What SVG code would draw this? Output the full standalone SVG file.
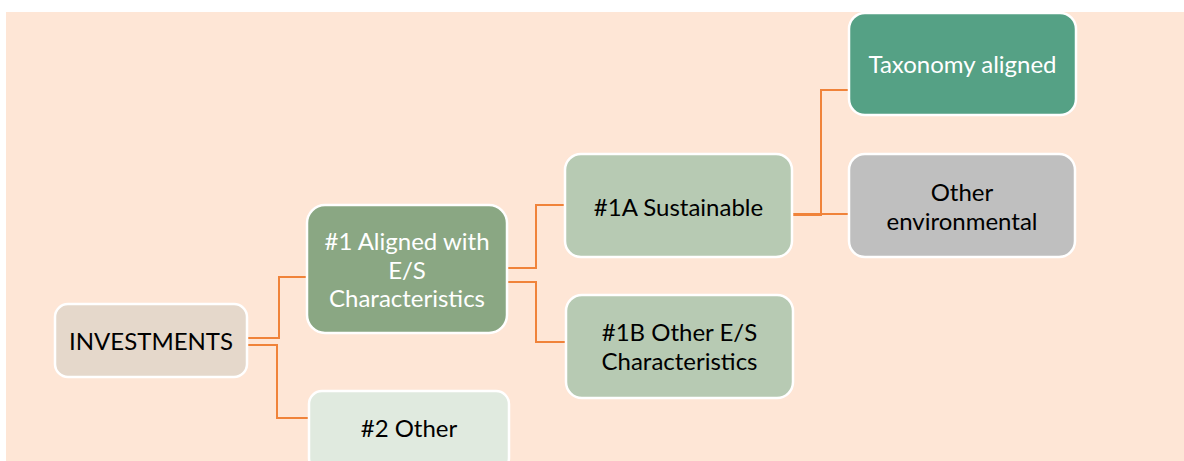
<svg xmlns="http://www.w3.org/2000/svg" width="1184" height="461" viewBox="0 0 1184 461">
<style>
.box{stroke:#FFFFFF;stroke-width:2.5}
.t{font-family:Lato,"Liberation Sans",sans-serif;font-size:24px;text-anchor:middle;fill:#000000}
.w{fill:#FFFFFF}
.c{fill:none;stroke:#F0833A;stroke-width:2}
</style>
<rect x="0" y="0" width="1184" height="461" fill="#FFFFFF"/>
<rect x="6" y="12" width="1178" height="449" fill="#FEE6D6"/>
<g id="connectors">
<path class="c" d="M247 338 H279 V277 H308"/>
<path class="c" d="M247 345 H277 V418 H310"/>
<path class="c" d="M508 268 H536 V205 H566"/>
<path class="c" d="M508 282 H536 V342 H567"/>
<path class="c" d="M792 215 H821 V90 H850"/>
<path class="c" d="M792 214 H850"/>
</g>
<g id="investments">
<rect class="box" x="55" y="304" width="192" height="73" rx="13" fill="#E5D8CB"/>
<text class="t" x="151" y="350">INVESTMENTS</text>
</g>
<g id="aligned">
<rect class="box" x="307" y="205" width="200" height="128" rx="18" fill="#8AA783"/>
<text class="t w" x="407" y="250">#1 Aligned with</text>
<text class="t w" x="407" y="278.5">E/S</text>
<text class="t w" x="407" y="307">Characteristics</text>
</g>
<g id="other2">
<rect class="box" x="309" y="391" width="200" height="80" rx="13" fill="#E0EADF"/>
<text class="t" x="409" y="437">#2 Other</text>
</g>
<g id="sustainable">
<rect class="box" x="565" y="154" width="227" height="103" rx="16" fill="#B7CAB3"/>
<text class="t" x="678.5" y="216">#1A Sustainable</text>
</g>
<g id="otheres">
<rect class="box" x="566" y="295" width="227" height="103" rx="16" fill="#B7CAB3"/>
<text class="t" x="679.5" y="341">#1B Other E/S</text>
<text class="t" x="679.5" y="370">Characteristics</text>
</g>
<g id="taxonomy">
<rect class="box" x="849" y="13" width="227" height="102" rx="16" fill="#55A185"/>
<text class="t w" x="962.5" y="73">Taxonomy aligned</text>
</g>
<g id="otherenv">
<rect class="box" x="849" y="154" width="226" height="103" rx="16" fill="#BFBFBF"/>
<text class="t" x="962" y="201">Other</text>
<text class="t" x="962" y="230">environmental</text>
</g>
</svg>
